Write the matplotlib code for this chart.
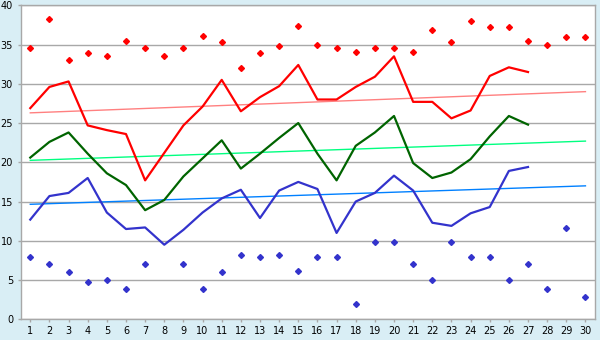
import numpy as np
import matplotlib
matplotlib.use("Agg")
import matplotlib.pyplot as plt

days = list(range(1, 31))
nan = np.nan

max_points = [34.5, 38.3, 33.0, 33.9, 33.5, 35.4, 34.5, 33.5, 34.6, 36.1,
              35.3, 32.0, 33.9, 34.8, 37.3, 35.0, 34.5, 34.0, 34.5, 34.6,
              34.0, 36.8, 35.3, 38.0, 37.2, 37.2, 35.5, 35.0, 36.0, 36.0]
min_points = [7.9, 7.0, 6.0, 4.7, 5.0, 3.9, 7.0, nan, 7.0, 3.9,
              6.0, 8.2, 7.9, 8.2, 6.2, 7.9, 7.9, 1.9, 9.9, 9.9,
              7.0, 5.0, 9.9, 7.9, 7.9, 5.0, 7.0, 3.9, 11.6, 2.9]
red_line = [26.9, 29.6, 30.3, 24.7, 24.1, 23.6, 17.7, 21.2, 24.7, 27.1,
            30.5, 26.5, 28.3, 29.7, 32.4, 28.0, 28.0, 29.6, 30.9, 33.5,
            27.7, 27.7, 25.6, 26.6, 31.0, 32.1, 31.5]
green_line = [20.6, 22.6, 23.8, 21.1, 18.6, 17.1, 13.9, 15.2, 18.2, 20.5,
              22.8, 19.2, 21.1, 23.1, 25.0, 21.1, 17.7, 22.1, 23.8, 25.9,
              19.9, 18.0, 18.7, 20.4, 23.3, 25.9, 24.8]
blue_line = [12.7, 15.7, 16.1, 18.0, 13.6, 11.5, 11.7, 9.5, 11.4, 13.6,
             15.4, 16.5, 12.9, 16.4, 17.5, 16.6, 11.0, 15.0, 16.1, 18.3,
             16.4, 12.3, 11.9, 13.5, 14.3, 18.9, 19.4]
trend_x = [1, 30]
red_trend = [26.3, 29.0]
green_trend = [20.25, 22.7]
blue_trend = [14.65, 17.0]
y_ticks = list(range(0, 45, 5))

bg = "#D9EEF5"
grid_c = "#A8A8A8"

fig = plt.figure(figsize=(6, 3.4), dpi=100, facecolor=bg)
ax = fig.add_axes([0.0345, 0.0609, 0.9572, 0.9235])
ax.set_facecolor("white")

ax.plot(trend_x, red_trend, color="#FF8080", lw=1.0, zorder=2)
ax.plot(trend_x, green_trend, color="#00FF80", lw=1.0, zorder=2)
ax.plot(trend_x, blue_trend, color="#0080FF", lw=1.0, zorder=2)

ax.plot(days[:len(red_line)], red_line, color="#FF0000", lw=1.6, zorder=3)
ax.plot(days[:len(green_line)], green_line, color="#006400", lw=1.6, zorder=3)
ax.plot(days[:len(blue_line)], blue_line, color="#3333CC", lw=1.6, zorder=3)

ax.plot(days, max_points, ls="none", marker="D", ms=3.0, color="#FF0000",
        mec="#FF0000", zorder=4)
ax.plot(days, min_points, ls="none", marker="D", ms=3.0, color="#3333CC",
        mec="#3333CC", zorder=4)

ax.set_xlim(0.5, 30.5)
ax.set_ylim(0, 40)
ax.set_xticks(days)
ax.set_xticklabels([str(d) for d in days])
ax.set_yticks(y_ticks)
ax.set_yticklabels([str(v) for v in y_ticks])
ax.yaxis.grid(True, color=grid_c, lw=1.0)
ax.set_axisbelow(True)
for s in ax.spines.values():
    s.set_color(grid_c)
    s.set_linewidth(1.0)
ax.tick_params(axis="both", colors=grid_c, labelcolor="black", labelsize=7,
               length=2.5, width=1.0)
ax.tick_params(axis="y", pad=3.0)
ax.tick_params(axis="x", pad=2.5)

fig.savefig("out.png", dpi=100, facecolor=bg)
